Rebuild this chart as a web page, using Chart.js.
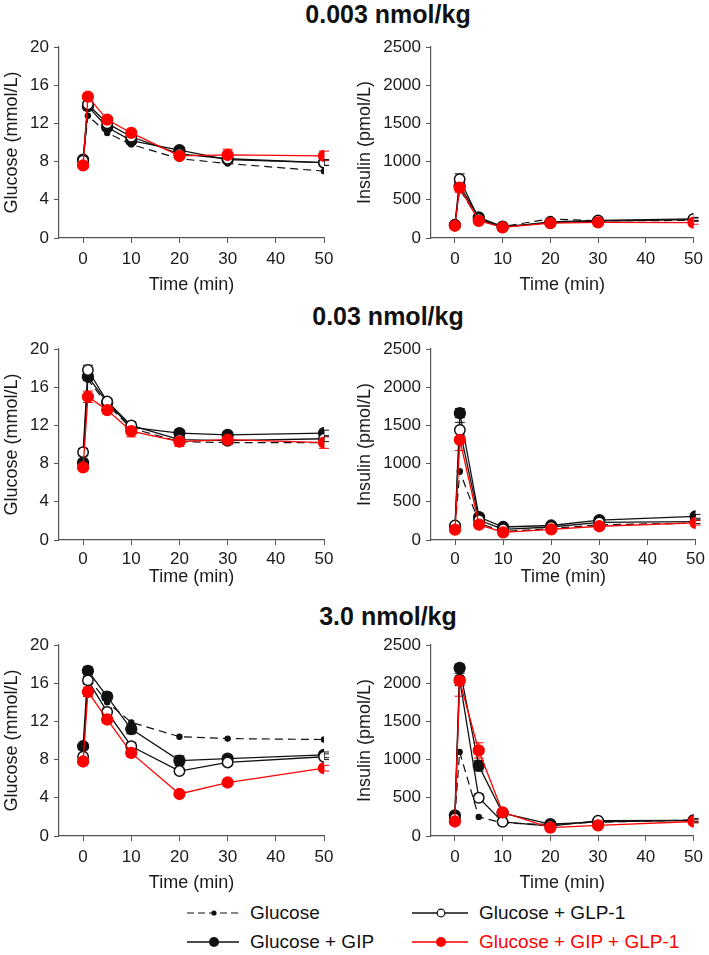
<!DOCTYPE html>
<html>
<head>
<meta charset="utf-8">
<script src="https://cdn.jsdelivr.net/npm/chart.js@4.4.1/dist/chart.umd.min.js"></script>
<style>
  body { margin: 0; background: #fff; width: 709px; height: 955px; position: relative; overflow: hidden;
         font-family: 'Liberation Sans', Arial, sans-serif; }
  canvas { position: absolute; }
  .title { position: absolute; width: 300px; left: 238px; text-align: center; font-weight: bold;
           font-size: 25px; color: #111; line-height: 30px; }
  .leg { position: absolute; height: 24px; display: flex; align-items: center; font-size: 19px; color: #111; }
  .leg svg { margin-right: 11px; }
</style>
</head>
<body>
<div class="title" style="top:-1px">0.003 nmol/kg</div>
<div class="title" style="top:301px">0.03 nmol/kg</div>
<div class="title" style="top:601px">3.0 nmol/kg</div>

<canvas id="c1" width="350" height="266" style="left:0;top:30px"></canvas>
<canvas id="c2" width="355" height="266" style="left:354px;top:30px"></canvas>
<canvas id="c3" width="350" height="256" style="left:0;top:332px"></canvas>
<canvas id="c4" width="355" height="256" style="left:354px;top:332px"></canvas>
<canvas id="c5" width="350" height="266" style="left:0;top:628px"></canvas>
<canvas id="c6" width="355" height="266" style="left:354px;top:628px"></canvas>

<div class="leg" style="left:187px;top:901px">
  <svg width="52" height="12"><line x1="0" y1="6" x2="52" y2="6" stroke="#111" stroke-width="1.2" stroke-dasharray="7,4"/><circle cx="27" cy="6" r="2.6" fill="#111"/></svg>Glucose</div>
<div class="leg" style="left:187px;top:930px">
  <svg width="52" height="12"><line x1="0" y1="6" x2="52" y2="6" stroke="#111" stroke-width="1.3"/><circle cx="27" cy="6" r="5" fill="#111"/></svg>Glucose + GIP</div>
<div class="leg" style="left:412px;top:901px">
  <svg width="56" height="12"><line x1="0" y1="6" x2="56" y2="6" stroke="#111" stroke-width="1.3"/><circle cx="29" cy="6" r="3.8" fill="#fff" stroke="#111" stroke-width="1.2"/></svg>Glucose + GLP-1</div>
<div class="leg" style="left:412px;top:930px;color:#f00">
  <svg width="56" height="12"><line x1="0" y1="6" x2="56" y2="6" stroke="#f00" stroke-width="1.3"/><circle cx="29" cy="6" r="5" fill="#f00"/></svg>Glucose + GIP + GLP-1</div>

<script>
// Axes
const times = [0, 1, 5, 10, 20, 30, 50];
const timeTicks = [0, 10, 20, 30, 40, 50];
const glucoseTicks = [0, 4, 8, 12, 16, 20];
const insulinTicks = [0, 500, 1000, 1500, 2000, 2500];

// 0.003 nmol/kg - glucose (mmol/L)
const g1Glc = [8.0, 12.8, 11.0, 9.8, 8.3, 7.8, 7.0];
const g1Gip = [8.2, 13.8, 11.6, 10.2, 9.2, 8.2, 7.9];
const g1Glp = [8.1, 14.0, 12.0, 10.6, 8.8, 8.3, 7.9];
const g1Both = [7.6, 14.8, 12.4, 11.0, 8.6, 8.7, 8.6];
const g1GlcErr = [0, 0, 0, 0, 0, 0, 0];
const g1GipErr = [0.3, 0.4, 0.3, 0.3, 0.3, 0.3, 0.3];
const g1GlpErr = [0.3, 0.5, 0.3, 0.3, 0.3, 0.3, 0.3];
const g1BothErr = [0.2, 0.3, 0.3, 0.3, 0.3, 0.6, 0.5];

// 0.003 nmol/kg - insulin (pmol/L)
const i1Glc = [160, 640, 240, 150, 250, 225, 230];
const i1Gip = [170, 680, 270, 150, 200, 220, 240];
const i1Glp = [170, 770, 250, 140, 210, 230, 250];
const i1Both = [160, 660, 225, 140, 195, 205, 200];
const i1GlcErr = [0, 0, 0, 0, 0, 0, 0];
const i1GipErr = [20, 50, 25, 15, 20, 20, 20];
const i1GlpErr = [20, 70, 25, 15, 20, 20, 20];
const i1BothErr = [20, 60, 25, 15, 20, 20, 20];

// 0.03 nmol/kg - glucose
const g2Glc = [8.5, 16.8, 14.2, 11.7, 10.3, 10.2, 10.2];
const g2Gip = [8.1, 17.1, 14.4, 11.8, 11.2, 11.0, 11.2];
const g2Glp = [9.2, 17.8, 14.5, 12.0, 10.5, 10.4, 10.6];
const g2Both = [7.6, 15.0, 13.6, 11.4, 10.3, 10.5, 10.2];
const g2GlcErr = [0, 0, 0, 0, 0, 0, 0];
const g2GipErr = [0.3, 0.4, 0.3, 0.3, 0.3, 0.3, 0.3];
const g2GlpErr = [0.4, 0.5, 0.3, 0.4, 0.3, 0.3, 0.3];
const g2BothErr = [0.3, 0.6, 0.3, 0.6, 0.5, 0.5, 0.6];

// 0.03 nmol/kg - insulin
const i2Glc = [170, 900, 220, 110, 150, 200, 220];
const i2Gip = [180, 1660, 300, 170, 190, 260, 310];
const i2Glp = [190, 1440, 260, 140, 170, 230, 240];
const i2Both = [135, 1310, 200, 100, 140, 180, 225];
const i2GlcErr = [0, 0, 0, 0, 0, 0, 0];
const i2GipErr = [20, 60, 30, 20, 20, 25, 25];
const i2GlpErr = [20, 100, 30, 20, 20, 25, 25];
const i2BothErr = [20, 140, 30, 20, 20, 25, 30];

// 3.0 nmol/kg - glucose
const g3Glc = [8.5, 16.6, 14.0, 11.9, 10.4, 10.2, 10.1];
const g3Gip = [9.4, 17.3, 14.6, 11.2, 7.9, 8.1, 8.5];
const g3Glp = [8.3, 16.3, 13.0, 9.4, 6.8, 7.7, 8.3];
const g3Both = [7.8, 15.1, 12.2, 8.7, 4.4, 5.6, 7.1];
const g3GlcErr = [0, 0, 0, 0, 0, 0, 0];
const g3GipErr = [0.3, 0.4, 0.4, 0.5, 0.5, 0.3, 0.3];
const g3GlpErr = [0.3, 0.4, 0.4, 0.4, 0.3, 0.3, 0.3];
const g3BothErr = [0.3, 0.5, 0.4, 0.4, 0.2, 0.2, 0.3];

// 3.0 nmol/kg - insulin
const i3Glc = [250, 1100, 250, 170, 150, 180, 210];
const i3Gip = [270, 2200, 920, 300, 155, 185, 205];
const i3Glp = [230, 2050, 500, 185, 130, 200, 205];
const i3Both = [190, 2030, 1120, 310, 110, 140, 190];
const i3GlcErr = [0, 0, 0, 0, 0, 0, 0];
const i3GipErr = [30, 50, 70, 30, 20, 20, 20];
const i3GlpErr = [30, 80, 50, 30, 20, 20, 20];
const i3BothErr = [30, 200, 100, 30, 20, 20, 20];

const FONT = "'Liberation Sans', Arial, sans-serif";
const AXIS = '#555';
const TEXT = '#1a1a1a';
const RED = '#ff0000';

// Error bars drawn under the markers
const errorBars = {
    id: 'errorBars',
    beforeDatasetsDraw(chart) {
        const ctx = chart.ctx;
        const xs = chart.scales.x, ys = chart.scales.y;
        chart.data.datasets.forEach(ds => {
            if (!ds.errors) return;
            ctx.save();
            ctx.strokeStyle = ds.barColor;
            ctx.lineWidth = 1;
            ds.data.forEach((p, i) => {
                if (!ds.errors[i]) return;
                const px = xs.getPixelForValue(p.x);
                const t = ys.getPixelForValue(p.y + ds.errors[i]);
                const b = ys.getPixelForValue(p.y - ds.errors[i]);
                ctx.beginPath();
                ctx.moveTo(px, t); ctx.lineTo(px, b);
                ctx.moveTo(px - 5, t); ctx.lineTo(px + 5, t);
                ctx.moveTo(px - 5, b); ctx.lineTo(px + 5, b);
                ctx.stroke();
            });
            ctx.restore();
        });
    }
};

function pts(arr) { return arr.map((v, i) => ({ x: times[i], y: v })); }

function makeSeries(glc, gip, glp, both, eGlc, eGip, eGlp, eBoth) {
    return [
        { data: pts(both), errors: eBoth, barColor: RED, borderColor: RED, backgroundColor: RED,
          pointBackgroundColor: RED, pointBorderColor: RED, pointRadius: 5.5, borderWidth: 1.3, order: 0 },
        { data: pts(glp), errors: eGlp, barColor: '#111', borderColor: '#111', pointBackgroundColor: '#fff',
          pointBorderColor: '#111', pointBorderWidth: 1.5, pointRadius: 5.2, borderWidth: 1.3, order: 1 },
        { data: pts(gip), errors: eGip, barColor: '#111', borderColor: '#111', pointBackgroundColor: '#111',
          pointBorderColor: '#111', pointRadius: 5.5, borderWidth: 1.3, order: 2 },
        { data: pts(glc), errors: eGlc, barColor: '#111', borderColor: '#111', pointBackgroundColor: '#111',
          pointBorderColor: '#111', pointRadius: 2.6, borderWidth: 1.2, borderDash: [8, 5], order: 3 }
    ];
}

function makeChart(id, datasets, yTicks, yMax, yTitle, opts) {
    new Chart(document.getElementById(id), {
        type: 'line',
        data: { datasets: datasets },
        plugins: [errorBars],
        options: {
            responsive: false,
            animation: false,
            events: [],
            layout: { padding: { top: 17, right: opts.padRight, left: 0, bottom: 0 } },
            plugins: { legend: { display: false }, tooltip: { enabled: false } },
            elements: { line: { tension: 0, fill: false } },
            scales: {
                x: {
                    type: 'linear', min: -5, max: 50,
                    afterBuildTicks: axis => { axis.ticks = timeTicks.map(v => ({ value: v })); },
                    afterFit: s => { s.height = opts.xh; },
                    border: { display: true, color: AXIS, width: 1.2 },
                    grid: { display: true, drawOnChartArea: false, drawTicks: true, tickLength: 5, color: AXIS },
                    ticks: { color: TEXT, font: { family: FONT, size: 17 }, padding: opts.xPad, maxRotation: 0,
                             callback: v => String(v) },
                    title: { display: true, text: 'Time (min)', color: TEXT, font: { family: FONT, size: 18 },
                             padding: { top: 0, bottom: 0 } }
                },
                y: {
                    min: 0, max: yMax,
                    afterBuildTicks: axis => { axis.ticks = yTicks.map(v => ({ value: v })); },
                    afterFit: s => { s.width = opts.yw; },
                    border: { display: true, color: AXIS, width: 1.2 },
                    grid: { display: true, drawOnChartArea: false, drawTicks: true, tickLength: 5, color: AXIS },
                    ticks: { color: TEXT, font: { family: FONT, size: 17 }, padding: 5, callback: v => String(v) },
                    title: { display: true, text: yTitle, color: TEXT, font: { family: FONT, size: 18 },
                             padding: { top: opts.yTitlePad, bottom: 0 } }
                }
            }
        }
    });
}

const leftOpts = { padRight: 26, yw: 59, yTitlePad: 1 };
const rightOpts = { padRight: 12, yw: 77, yTitlePad: 0 };

makeChart('c1', makeSeries(g1Glc, g1Gip, g1Glp, g1Both, g1GlcErr, g1GipErr, g1GlpErr, g1BothErr),
    glucoseTicks, 20, 'Glucose (mmol/L)', { ...leftOpts, xh: 58, xPad: 6 });
makeChart('c2', makeSeries(i1Glc, i1Gip, i1Glp, i1Both, i1GlcErr, i1GipErr, i1GlpErr, i1BothErr),
    insulinTicks, 2500, 'Insulin (pmol/L)', { ...rightOpts, xh: 58, xPad: 6 });
makeChart('c3', makeSeries(g2Glc, g2Gip, g2Glp, g2Both, g2GlcErr, g2GipErr, g2GlpErr, g2BothErr),
    glucoseTicks, 20, 'Glucose (mmol/L)', { ...leftOpts, xh: 48, xPad: 4 });
makeChart('c4', makeSeries(i2Glc, i2Gip, i2Glp, i2Both, i2GlcErr, i2GipErr, i2GlpErr, i2BothErr),
    insulinTicks, 2500, 'Insulin (pmol/L)', { ...rightOpts, xh: 48, xPad: 4 });
makeChart('c5', makeSeries(g3Glc, g3Gip, g3Glp, g3Both, g3GlcErr, g3GipErr, g3GlpErr, g3BothErr),
    glucoseTicks, 20, 'Glucose (mmol/L)', { ...leftOpts, xh: 58, xPad: 6 });
makeChart('c6', makeSeries(i3Glc, i3Gip, i3Glp, i3Both, i3GlcErr, i3GipErr, i3GlpErr, i3BothErr),
    insulinTicks, 2500, 'Insulin (pmol/L)', { ...rightOpts, xh: 58, xPad: 6 });
</script>
</body>
</html>
